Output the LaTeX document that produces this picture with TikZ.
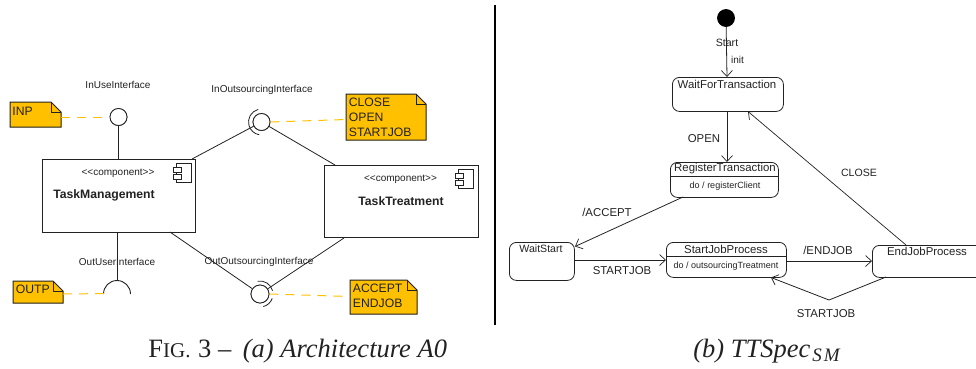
\documentclass[tikz,border=0pt]{standalone}
\usepackage{fontspec}
\setmainfont{Liberation Sans}
\newfontfamily\capfont{Liberation Serif}
\usetikzlibrary{arrows.meta,shapes.multipart}
\definecolor{notefill}{HTML}{FFC000}
\definecolor{ink}{HTML}{222222}
\newcommand{\sizelab}{\fontsize{10}{12}\selectfont}
\newcommand{\sizenote}{\fontsize{12.2}{14.6}\selectfont}
\newcommand{\sizecap}{\fontsize{26.5}{31}\selectfont}
\tikzset{
  x=1pt,y=-1pt,
  every path/.style={ink,line width=0.8pt},
  lab/.style={inner sep=0pt,font=\sizelab,text=ink},
  lab2/.style={inner sep=0pt,font=\fontsize{11.4}{13}\selectfont,text=ink},
  lab3/.style={inner sep=0pt,font=\fontsize{10.6}{12}\selectfont,text=ink},
  dolab/.style={inner sep=0pt,font=\fontsize{9}{11}\selectfont,text=ink},
  namelab/.style={inner sep=0pt,font=\fontsize{12.2}{14}\selectfont\bfseries,text=ink},
  comp/.style={draw,fill=white,line width=1pt,inner sep=0pt,anchor=north west},
  statebox/.style={draw,rounded corners=7pt,inner sep=0pt,anchor=north west,line width=0.8pt},
  notebody/.style={draw=ink,fill=notefill,line width=1pt},
  notelab/.style={inner sep=0pt,anchor=north west,align=left,font=\sizenote,text=ink},
  link/.style={line width=0.8pt},
  iface/.style={circle,draw,fill=white,inner sep=0pt,line width=0.8pt},
  tie/.style={draw=notefill,line width=1pt,dash pattern=on 9pt off 7pt},
  trans/.style={line width=0.8pt,-{Straight Barb[length=6pt,width=11pt,line width=0.7pt]}},
  caption/.style={inner sep=0pt,font=\sizecap\capfont,text=ink}
}
\newcommand{\notesheet}[5]{%
  \fill[notefill] (#2,#3) -- (#4-10,#3) -- (#4,#3+10) -- (#4,#5) -- (#2,#5) -- cycle;
  \draw[notebody] (#2,#3) -- (#4-10,#3) -- (#4,#3+10) -- (#4,#5) -- (#2,#5) -- cycle;
  \draw[line width=0.8pt] (#4-10,#3) -- (#4-10,#3+10) -- (#4,#3+10);
  \coordinate (#1) at (#2,#3);
}
\newcommand{\compicon}[2]{%
  \draw[line width=0.9pt] (#1+3,#2) rectangle (#1+18,#2+19);
  \draw[fill=white,line width=0.9pt] (#1,#2+4) rectangle (#1+8,#2+9);
  \draw[fill=white,line width=0.9pt] (#1,#2+11) rectangle (#1+8,#2+16);
}
\begin{document}
\begin{tikzpicture}
\useasboundingbox (0,0) rectangle (976,368);

% --- left panel
\node[comp,minimum width=153pt,minimum height=73pt] (tm) at (42,159) {};
\node[comp,line width=0.8pt,minimum width=154pt,minimum height=72pt] (tt) at (324,165) {};
\node[iface,minimum size=17pt] (iu) at (118.5,117) {};
\node[iface,minimum size=17pt] (io) at (261.5,122) {};
\node[iface,minimum size=18pt] (oo) at (260,294) {};
\coordinate (ou) at (117,281);

\coordinate (tmTop) at (118.5,159);
\coordinate (tmBot) at (117,232);
\coordinate (tmNE) at (192,159);
\coordinate (tmSE) at (170,232);
\coordinate (ttNW) at (335,165);
\coordinate (ttSW) at (344,238);
\draw[link] (iu) -- (tmTop);
\draw[link] (tmNE) -- (io);
\draw[link] (io) -- (ttNW);
\draw[link] (tmSE) -- (oo);
\draw[link] (ttSW) -- (oo);
\node[iface,minimum size=17pt] at (iu) {};
\node[iface,minimum size=17pt] at (io) {};
\node[iface,minimum size=18pt] at (oo) {};

% sockets (y axis points down, so visual angles are negated)
\draw[line width=0.8pt] (io) ++(-105:13) arc[start angle=-105,end angle=-260,radius=13];
\draw[line width=0.8pt] (oo) ++(-100:13) arc[start angle=-100,end angle=-15,radius=13];
\draw[line width=0.8pt] (oo) ++(20:13) arc[start angle=20,end angle=75,radius=13];
\draw[line width=0.9pt] (103.5,294) arc[start angle=180,end angle=360,radius=13.5];
\draw[link] (tmBot) -- (ou);

% notes
\notesheet{nInp}{10}{102}{61}{127}
\notesheet{nOutp}{13}{281}{63}{303}
\notesheet{nIo}{346}{94}{426}{140}
\notesheet{nOo}{350}{280}{417}{314}
\node[notelab] (tInp) at (12,106.5) {INP};
\node[notelab] (tOutp) at (15.5,285) {OUTP};
\node[notelab] (tIo) at (348.5,98) {CLOSE\\OPEN\\STARTJOB};
\node[notelab] (tOo) at (352.5,283.5) {ACCEPT\\ENDJOB};

% dashed ties
\coordinate (kInp) at (61,117);
\coordinate (kOutp) at (63,294);
\coordinate (kIo) at (346,119.5);
\coordinate (kOo) at (350,296.5);
\coordinate (sOu) at (108,293.5);
\draw[tie] (kInp) -- (iu.west);
\draw[tie] (kOutp) -- (sOu);
\draw[tie] (io.east) -- (kIo);
\draw[tie] (oo.east) -- (kOo);

% component contents
\compicon{173.5}{163.5}
\compicon{455}{169}
\node[lab] (s1) at (118,173.5) {{<}{<}component{>}{>}};
\node[lab] (s2) at (400.5,179.5) {{<}{<}component{>}{>}};
\node[namelab] (n1) at (104,195.5) {TaskManagement};
\node[namelab] (n2) at (401,201) {TaskTreatment};

% interface labels
\node[lab] (l1) at (118,84.5) {InUseInterface};
\node[lab] (l2) at (262,90) {InOutsourcingInterface};
\node[lab] (l3) at (117,261.5) {OutUserInterface};
\node[lab] (l4) at (259,261.5) {OutOutsourcingInterface};

% divider
\coordinate (d1) at (495,5);
\coordinate (d2) at (495,325);
\draw[black,line width=2pt] (d1) -- (d2);

% --- right panel
\node[circle,fill=black,draw=black,minimum size=17pt,inner sep=0pt] (st) at (726,18) {};
\node[statebox,minimum width=111pt,minimum height=34pt] (wft) at (672,77) {};
\node[statebox,minimum width=108pt,minimum height=35pt] (rt) at (670,162) {};
\node[statebox,minimum width=65pt,minimum height=38pt] (ws) at (509,242) {};
\node[statebox,minimum width=120pt,minimum height=35pt] (sjp) at (666,242) {};
\node[statebox,minimum width=120pt,minimum height=32pt] (ejp) at (872,245) {};
\coordinate (rtL) at (670,176);
\coordinate (rtR) at (778,176);
\coordinate (sjL) at (666,256);
\coordinate (sjR) at (786,256);
\draw[line width=0.8pt] (rtL) -- (rtR);
\draw[line width=0.8pt] (sjL) -- (sjR);

\node[lab2] (tw) at (727,84.5) {WaitForTransaction};
\node[lab2] (tr) at (725,169) {RegisterTransaction};
\node[dolab] (tr2) at (725,186.5) {do / registerClient};
\node[lab3] (ts) at (541,248.5) {WaitStart};
\node[lab2] (tj) at (726,249) {StartJobProcess};
\node[dolab] (tj2) at (726,266.5) {do / outsourcingTreatment};
\node[lab2] (te) at (927,251) {EndJobProcess};

\coordinate (aInit) at (727,77);
\coordinate (aOpen) at (727,162);
\coordinate (fOpen) at (727,111);
\coordinate (fAcc) at (683,197);
\coordinate (aAcc) at (575,246.5);
\coordinate (fSj) at (574,260);
\coordinate (aSj) at (666,260);
\coordinate (fEnd) at (786,261);
\coordinate (aEnd) at (872,261);
\coordinate (fCl) at (906,245);
\coordinate (aCl) at (748,111.5);
\coordinate (fLoop) at (886,277);
\coordinate (mLoop) at (829,300);
\coordinate (aLoop) at (771,277.5);
\draw[trans] (st) -- (aInit);
\draw[trans] (fOpen) -- (aOpen);
\draw[trans] (fAcc) -- (aAcc);
\draw[trans] (fSj) -- (aSj);
\draw[trans] (fEnd) -- (aEnd);
\draw[trans,line width=0.7pt] (fCl) -- (aCl);
\draw[trans] (fLoop) -- (mLoop) -- (aLoop);

\node[lab3] (x1) at (727,43) {Start};
\node[lab] (x2) at (737.5,59.5) {init};
\node[lab2] (x3) at (704,139) {OPEN};
\node[lab2] (x4) at (607,212) {/ACCEPT};
\node[lab2] (x5) at (622,270.5) {STARTJOB};
\node[lab2] (x6) at (828,250.5) {/ENDJOB};
\node[lab3] (x7) at (859,173) {CLOSE};
\node[lab2] (x8) at (826,313.5) {STARTJOB};

% captions
\node[caption,anchor=base west] (c1) at (148,357) {F{\fontsize{21}{24}\selectfont IG.}\kern1pt{} 3 –\kern5pt{} \itshape (a) Architecture A0};
\node[caption,anchor=base west] (c2) at (693,357) {\itshape (b) TTSpec\kern2pt\raisebox{-4pt}{\fontsize{19}{22}\selectfont S\kern2pt M}};
\end{tikzpicture}
\end{document}
